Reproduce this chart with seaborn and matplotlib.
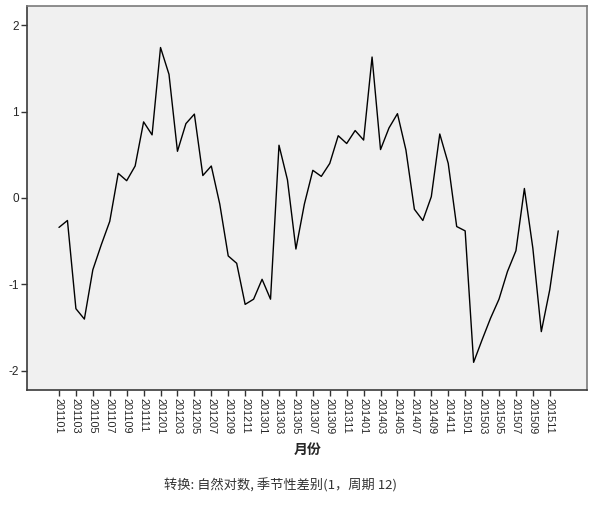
import matplotlib
matplotlib.use("Agg")
import matplotlib.pyplot as plt
import seaborn as sns
import pandas as pd

# -----------------------------------------------------------
# Data: monthly series (natural log, seasonal difference, period 12)
# -----------------------------------------------------------
months = [f"{y}{m:02d}" for y in range(2011, 2016) for m in range(1, 13)]

values = [
    -0.34, -0.26, -1.28, -1.40, -0.83, -0.54, -0.27, 0.285, 0.20, 0.37, 0.88, 0.73,
    1.74, 1.43, 0.54, 0.86, 0.97, 0.26, 0.37, -0.07, -0.67, -0.755, -1.23, -1.17,
    -0.94, -1.17, 0.61, 0.21, -0.59, -0.07, 0.32, 0.25, 0.40, 0.72, 0.63, 0.78,
    0.67, 1.63, 0.56, 0.81, 0.975, 0.555, -0.13, -0.26, 0.015, 0.74, 0.40, -0.33,
    -0.38, -1.90, -1.64, -1.39, -1.17, -0.85, -0.61, 0.11, -0.58, -1.545, -1.06, -0.38,
]

tick_labels = months[::2]
y_ticks = [-2, -1, 0, 1, 2]

df = pd.DataFrame({"idx": range(len(months)), "月份": months, "值": values})

# -----------------------------------------------------------
# Plot
# -----------------------------------------------------------
sns.set_style("white")
plt.rcParams["font.family"] = ["Liberation Sans", "Noto Sans CJK SC", "DejaVu Sans"]

fig = plt.figure(figsize=(6.09, 5.17), dpi=100)
ax = fig.add_axes([27 / 609, 1 - 390 / 517, 560 / 609, 384 / 517])
ax.set_facecolor("#f0f0f0")

sns.lineplot(data=df, x="idx", y="值", ax=ax, color="black", linewidth=1.0)

ax.set_xlim(-3.78, 62.4)
ax.set_ylim(-2.22, 2.22)

ax.set_xticks(range(0, len(months), 2))
ax.set_xticklabels(tick_labels, rotation=-90, fontsize=7.8)
ax.set_yticks(y_ticks)
ax.set_yticklabels([str(t) for t in y_ticks], fontsize=8.5)
ax.tick_params(axis="both", direction="out", length=4, width=1, color="#333333",
               bottom=True, left=True, pad=2)

for side in ["left", "bottom"]:
    ax.spines[side].set_color("#3a3a3a")
    ax.spines[side].set_linewidth(1.2)
for side in ["top", "right"]:
    ax.spines[side].set_color("#7a7a7a")
    ax.spines[side].set_linewidth(1.2)

ax.set_xlabel("")
ax.set_ylabel("")

# axis title and transformation note
fig.text(308 / 609, 1 - 450 / 517, "月份", ha="center", va="center",
         fontsize=10, fontweight="bold", family=["Noto Sans CJK SC", "DejaVu Sans"])
fig.text(280 / 609, 1 - 485 / 517, "转换: 自然对数, 季节性差别(1，周期 12)",
         ha="center", va="center", fontsize=9.5, color="#333333",
         family=["Noto Sans CJK SC", "DejaVu Sans"])

fig.savefig("out.png", dpi=100)
